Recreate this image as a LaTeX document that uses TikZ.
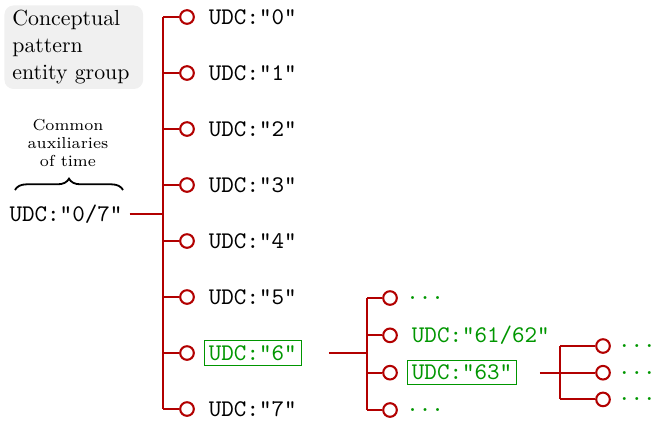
\documentclass[tikz,border=0pt]{standalone}
\usepackage{amsmath}
\usetikzlibrary{calc,positioning,decorations.pathreplacing}

\definecolor{udcred}{RGB}{178,0,0}
\definecolor{udcgreen}{RGB}{0,150,0}

\tikzset{
  branch/.style={udcred, line width=0.9pt},
  leaf/.style={circle, draw=udcred, line width=0.9pt, fill=white, minimum size=6pt, inner sep=0pt},
  udc/.style={font=\ttfamily\fontsize{10.5}{12}\selectfont, inner sep=2pt},
  udcsel/.style={udc, text=udcgreen, draw=udcgreen, thin},
  udcmore/.style={udc, text=udcgreen},
}

\begin{document}
\begin{tikzpicture}[x=0.44pt,y=-0.44pt]
\useasboundingbox (0,0) rectangle (655,422);

% the group box
\node[fill=gray!12, rounded corners=4pt, text width=54pt, inner xsep=3.5pt, inner ysep=2pt, align=left, anchor=north west, font=\fontsize{9.6}{12}\selectfont] (grp) at (4,5) {Conceptual\\pattern\\entity group};

% the root and its brace
\node[udc, inner sep=3pt] (root) at (66,214) {UDC:"0/7"};
\node[font=\scriptsize, align=center] (aux) at (68,143) {Common\\auxiliaries\\of time};
\draw[thick, decorate, decoration={brace, amplitude=5pt}] (15,190) -- (123,190);

% first level
\coordinate (j0) at (163,214);
\draw[branch] (root) -- (j0);
\foreach \i/\s in {0/udc,1/udc,2/udc,3/udc,4/udc,5/udc,6/udcsel,7/udc} {
   \coordinate (t\i) at (163,{17+56*\i});
   \node[leaf] (c\i) at (187,{17+56*\i}) {};
   \draw[branch] (t\i) -- (c\i);
   \node[\s, right=4pt of c\i] (l\i) {UDC:"\i"};
}
\draw[branch] (t0) -- (t7);

% second level
\foreach \i in {0,1,2,3} {
   \coordinate (u\i) at (367,{298+37.33*\i});
   \node[leaf] (d\i) at (390,{298+37.33*\i}) {};
   \draw[branch] (u\i) -- (d\i);
}
\draw[branch] (u0) -- (u3);
\coordinate (j1) at (l6.east -| u0);
\draw[branch, shorten <=12pt] (l6.east) -- (j1);
\node[udcmore, right=1.5pt of d0] (m0) {...};
\node[udcmore, right=4pt of d1] (m1) {UDC:"61/62"};
\node[udcsel, right=4pt of d2] (m2) {UDC:"63"};
\node[udcmore, right=1.5pt of d3] (m3) {...};

% third level
\foreach \i in {0,1,2} {
   \coordinate (v\i) at (560,{346+26.7*\i});
   \node[leaf] (e\i) at (603,{346+26.7*\i}) {};
   \draw[branch] (v\i) -- (e\i);
   \node[udcmore, right=1pt of e\i] (n\i) {...};
}
\draw[branch] (v0) -- (v2);
\coordinate (j2) at (m2.east -| v0);
\draw[branch, shorten <=10pt] (m2.east) -- (j2);

\end{tikzpicture}
\end{document}
